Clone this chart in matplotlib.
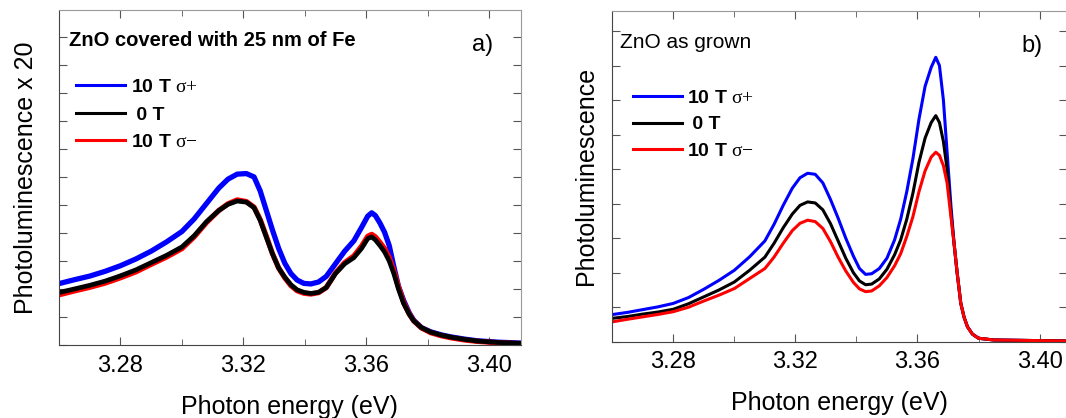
import matplotlib
matplotlib.use('Agg')
import matplotlib.pyplot as plt

plt.rcParams['font.family'] = ['Liberation Sans', 'DejaVu Sans']
plt.rcParams['mathtext.fontset'] = 'custom'
plt.rcParams['mathtext.rm'] = 'Liberation Serif'
plt.rcParams['mathtext.bf'] = 'Liberation Sans:bold'

# panel a: ZnO covered with 25 nm of Fe (PL x 20)
energy_a = [3.2603, 3.2650, 3.2700, 3.2750, 3.2800, 3.2850, 3.2900, 3.2950, 3.3000,
            3.3040, 3.3080, 3.3120, 3.3150, 3.3180, 3.3210, 3.3235, 3.3255, 3.3275,
            3.3295, 3.3315, 3.3335, 3.3355, 3.3375, 3.3397, 3.3420, 3.3445, 3.3470,
            3.3500, 3.3530, 3.3560, 3.3585, 3.3605, 3.3618, 3.3630, 3.3645, 3.3660,
            3.3675, 3.3690, 3.3705, 3.3722, 3.3740, 3.3755, 3.3780, 3.3810, 3.3845,
            3.3875, 3.3920, 3.3962, 3.4030, 3.4100]
plus_a = [2.20, 2.33, 2.46, 2.63, 2.83, 3.07, 3.35, 3.68, 4.05,
          4.50, 5.05, 5.60, 5.92, 6.10, 6.12, 6.00, 5.50, 4.80,
          4.10, 3.45, 2.92, 2.55, 2.32, 2.20, 2.18, 2.25, 2.45,
          2.90, 3.35, 3.72, 4.20, 4.60, 4.72, 4.62, 4.35, 4.02,
          3.55, 2.80, 2.10, 1.59, 1.15, 0.88, 0.62, 0.47, 0.36,
          0.29, 0.21, 0.15, 0.10, 0.07]
zero_a = [1.88, 2.00, 2.13, 2.28, 2.47, 2.68, 2.94, 3.20, 3.50,
          3.90, 4.40, 4.80, 5.02, 5.14, 5.10, 4.90, 4.45, 3.85,
          3.25, 2.75, 2.42, 2.15, 1.97, 1.88, 1.84, 1.88, 2.05,
          2.55, 2.90, 3.12, 3.45, 3.80, 3.86, 3.75, 3.55, 3.32,
          3.00, 2.55, 2.00, 1.48, 1.10, 0.86, 0.62, 0.46, 0.35,
          0.28, 0.20, 0.14, 0.09, 0.06]
minus_a = [1.80, 1.93, 2.06, 2.21, 2.40, 2.61, 2.88, 3.14, 3.44,
           3.86, 4.37, 4.80, 5.04, 5.18, 5.12, 4.92, 4.48, 3.88,
           3.26, 2.75, 2.40, 2.12, 1.94, 1.85, 1.82, 1.87, 2.05,
           2.57, 2.94, 3.18, 3.53, 3.88, 3.95, 3.86, 3.66, 3.44,
           3.12, 2.66, 2.08, 1.52, 1.11, 0.86, 0.61, 0.44, 0.33,
           0.26, 0.18, 0.13, 0.08, 0.05]

# panel b: ZnO as grown
energy_b = [3.2603, 3.2650, 3.2700, 3.2750, 3.2800, 3.2850, 3.2900, 3.2950, 3.3000,
            3.3050, 3.3100, 3.3130, 3.3160, 3.3190, 3.3215, 3.3240, 3.3265, 3.3290,
            3.3315, 3.3340, 3.3365, 3.3390, 3.3410, 3.3430, 3.3450, 3.3475, 3.3500,
            3.3525, 3.3545, 3.3565, 3.3585, 3.3605, 3.3625, 3.3645, 3.3660, 3.3672,
            3.3685, 3.3697, 3.3710, 3.3720, 3.3730, 3.3742, 3.3753, 3.3764, 3.3780,
            3.3800, 3.3850, 3.4090]
plus_b = [0.79, 0.85, 0.93, 1.01, 1.11, 1.28, 1.52, 1.78, 2.07,
          2.46, 2.92, 3.40, 3.95, 4.45, 4.75, 4.88, 4.85, 4.60,
          4.12, 3.58, 3.00, 2.48, 2.12, 1.95, 1.97, 2.12, 2.42,
          2.95, 3.55, 4.35, 5.30, 6.45, 7.40, 7.95, 8.24, 8.00,
          7.00, 5.50, 3.90, 2.84, 2.00, 1.11, 0.70, 0.43, 0.22,
          0.10, 0.05, 0.02]
zero_b = [0.68, 0.73, 0.80, 0.86, 0.94, 1.10, 1.30, 1.50, 1.73,
          2.07, 2.45, 2.85, 3.30, 3.70, 3.95, 4.05, 4.02, 3.82,
          3.42, 2.92, 2.42, 2.00, 1.76, 1.65, 1.67, 1.82, 2.10,
          2.52, 2.95, 3.55, 4.30, 5.20, 5.90, 6.35, 6.55, 6.35,
          5.80, 5.00, 3.70, 2.84, 2.00, 1.11, 0.70, 0.43, 0.22,
          0.10, 0.05, 0.02]
minus_b = [0.58, 0.65, 0.72, 0.79, 0.87, 1.00, 1.18, 1.35, 1.54,
           1.83, 2.12, 2.45, 2.85, 3.22, 3.43, 3.52, 3.48, 3.28,
           2.90, 2.45, 2.05, 1.72, 1.53, 1.45, 1.47, 1.62, 1.86,
           2.20, 2.55, 3.05, 3.62, 4.35, 4.95, 5.35, 5.49, 5.40,
           5.10, 4.60, 3.60, 2.84, 2.00, 1.11, 0.70, 0.43, 0.22,
           0.10, 0.05, 0.02]

series_colors = ['#0000ff', '#000000', '#ff0000']
legend_labels = [r'$\mathbf{10}$ $\mathbf{T}$ $\mathrm{\sigma{+}}$', ' 0 T',
                 r'$\mathbf{10}$ $\mathbf{T}$ $\mathrm{\sigma{-}}$']
major_ticks = [3.28, 3.32, 3.36, 3.40]
major_labels = ['3.28', '3.32', '3.36', '3.40']
minor_ticks = [3.30, 3.34, 3.38]


def style_axes(ax, xlim, ylim, nyticks, ylabel, ylabelpad):
    ax.set_xlim(xlim)
    ax.set_ylim(ylim)
    ax.set_xticks(major_ticks)
    ax.set_xticklabels(major_labels)
    ax.set_xticks(minor_ticks, minor=True)
    ax.set_yticks(range(nyticks))
    ax.tick_params(which='both', direction='in', top=True, right=True,
                   labelleft=False, labelsize=17, pad=7, color='#555555')
    ax.tick_params(which='major', length=6)
    ax.tick_params(which='minor', length=4)
    for s in ['left', 'bottom']:
        ax.spines[s].set_color('#444444')
    for s in ['top', 'right']:
        ax.spines[s].set_color('#999999')
    ax.set_xlabel('Photon energy (eV)', fontsize=18, labelpad=13)
    ax.set_ylabel(ylabel, fontsize=18, labelpad=ylabelpad)


fig = plt.figure(figsize=(10.66, 4.18), dpi=100)

# --- panel a
ax = fig.add_axes([59 / 1066, 73 / 418, 461.7 / 1066, 335 / 418])
la_plus, = ax.plot(energy_a, plus_a, color=series_colors[0], lw=3.8)
la_minus, = ax.plot(energy_a, minus_a, color=series_colors[2], lw=3.8)
la_zero, = ax.plot(energy_a, zero_a, color=series_colors[1], lw=3.4)
style_axes(ax, (3.26, 3.4103), (0, 11.96), 12, 'Photoluminescence x 20', 15)
ax.text(0.022, 0.91, 'ZnO covered with 25 nm of Fe', transform=ax.transAxes,
        fontsize=14.5, fontweight='bold', va='center', ha='left')
ax.text(0.918, 0.896, 'a)', transform=ax.transAxes, fontsize=17,
        va='center', ha='center')
leg = ax.legend([la_plus, la_zero, la_minus], legend_labels, loc='upper left',
                bbox_to_anchor=(0.037, 0.795), frameon=False,
                prop={'weight': 'bold', 'size': 14}, handlelength=2.5,
                handletextpad=0.3, labelspacing=0.5, borderpad=0, borderaxespad=0)
for h in leg.get_lines():
    h.set_linewidth(2.2)

# --- panel b
ax = fig.add_axes([612.3 / 1066, 76.3 / 418, 454.7 / 1066, 331 / 418])
lb_plus, = ax.plot(energy_b, plus_b, color=series_colors[0], lw=2.2)
lb_zero, = ax.plot(energy_b, zero_b, color=series_colors[1], lw=2.2)
lb_minus, = ax.plot(energy_b, minus_b, color=series_colors[2], lw=2.2)
style_axes(ax, (3.26, 3.409), (0, 9.59), 10, 'Photoluminescence', 10)
ax.text(0.017, 0.905, 'ZnO as grown', transform=ax.transAxes,
        fontsize=15, va='center', ha='left')
ax.text(0.923, 0.893, 'b)', transform=ax.transAxes, fontsize=17,
        va='center', ha='center')
leg = ax.legend([lb_plus, lb_zero, lb_minus], legend_labels, loc='upper left',
                bbox_to_anchor=(0.0455, 0.763), frameon=False,
                prop={'weight': 'bold', 'size': 14}, handlelength=2.5,
                handletextpad=0.3, labelspacing=0.46, borderpad=0, borderaxespad=0)
for h in leg.get_lines():
    h.set_linewidth(2.2)

plt.savefig('out.png', dpi=100)
